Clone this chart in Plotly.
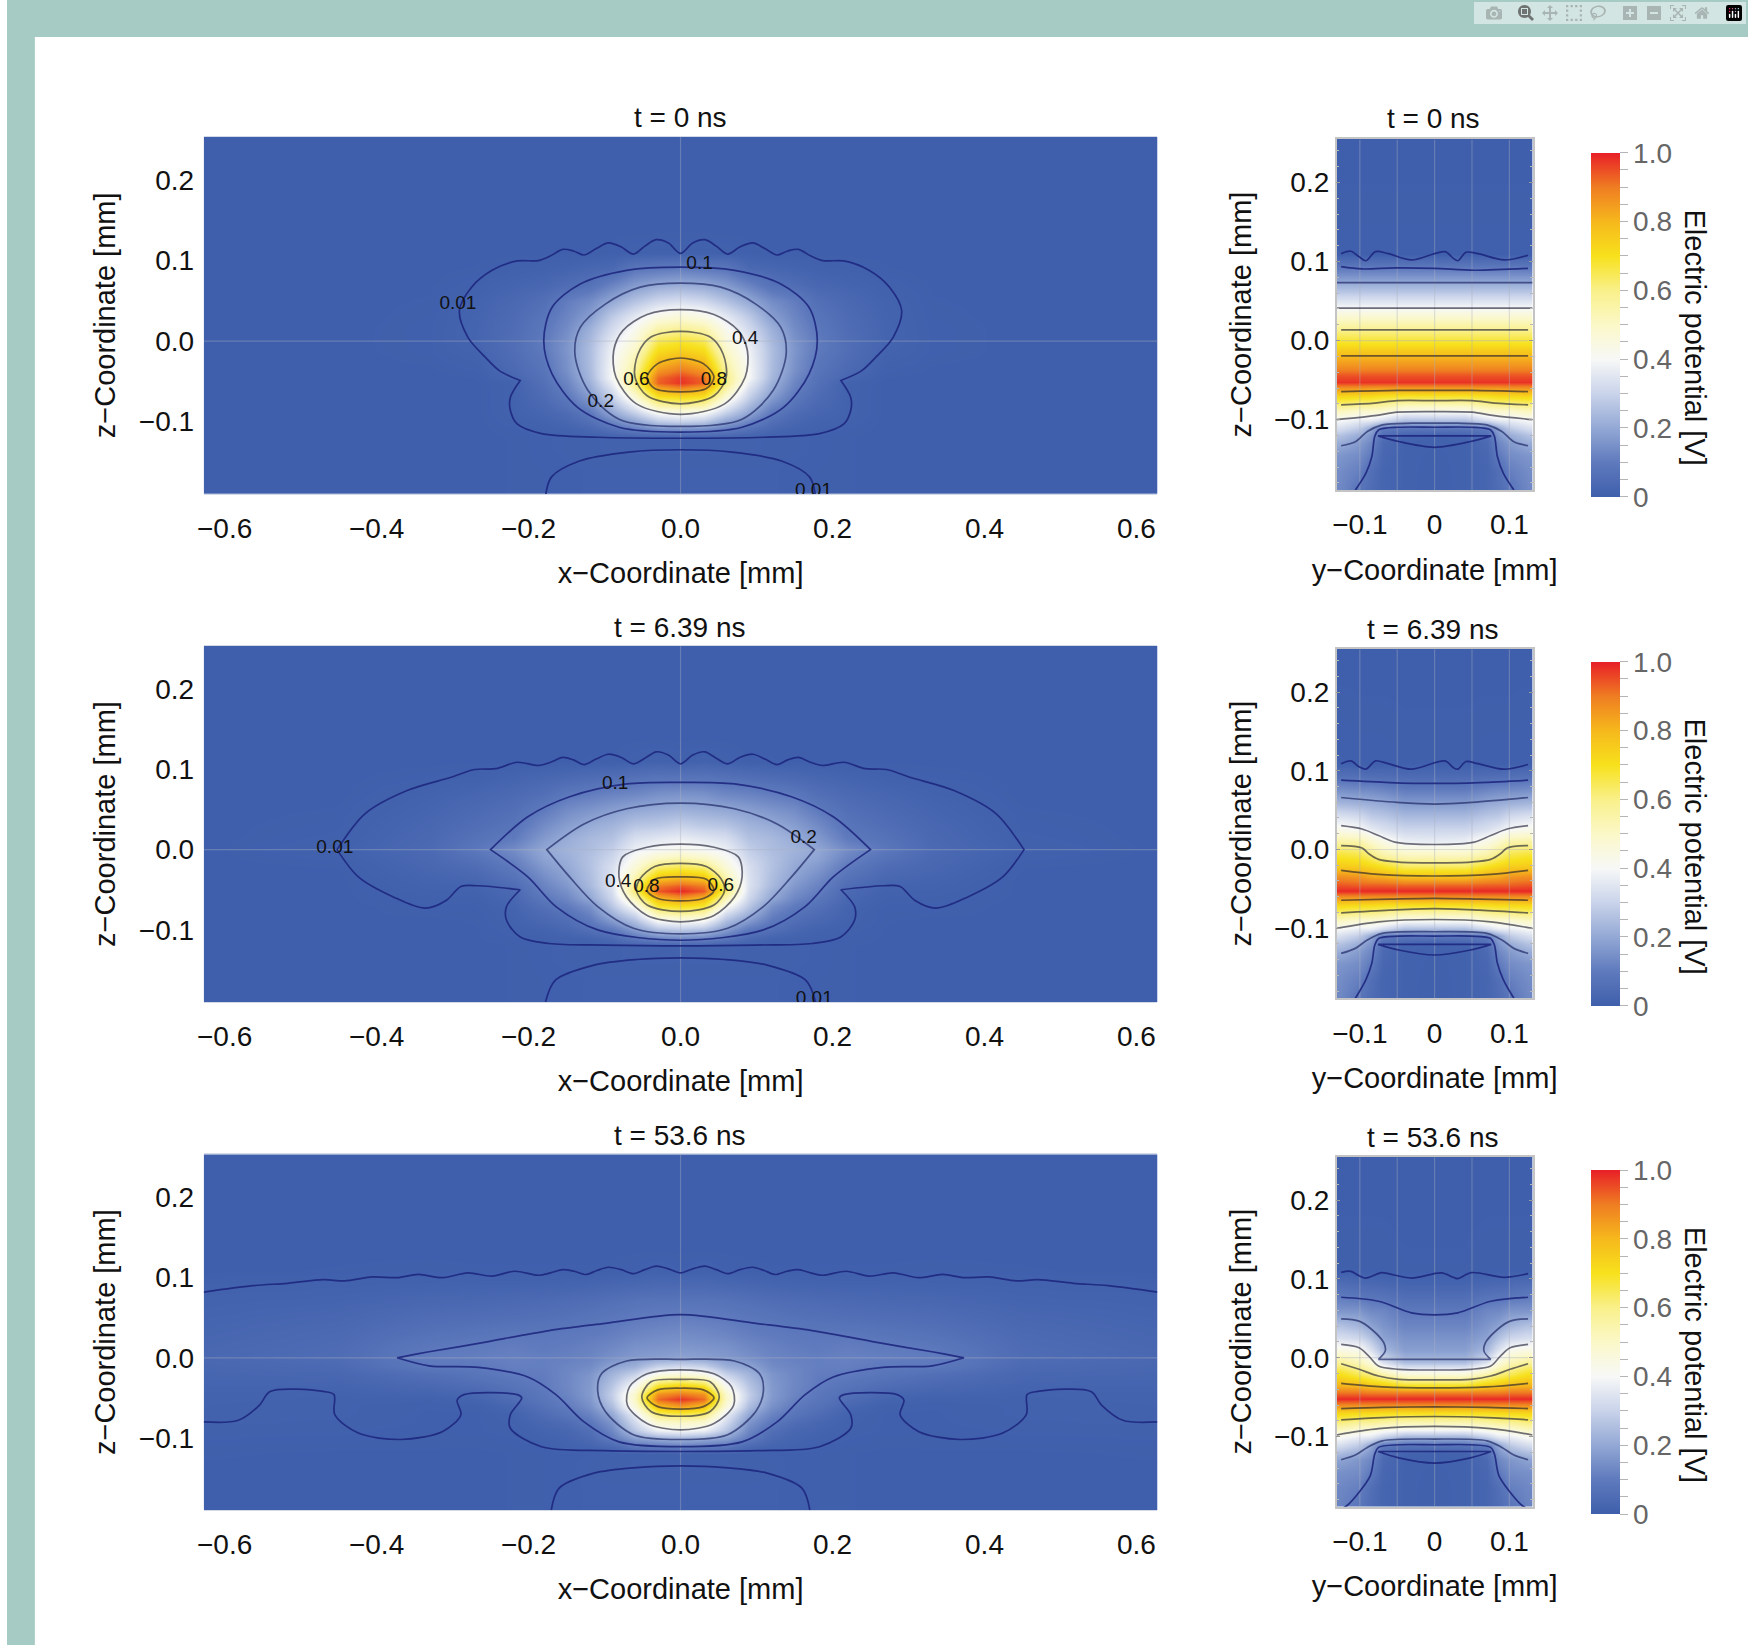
import numpy as np
import plotly.graph_objects as go

W, H = 1748, 1645
FONT = "Liberation Sans"

# ---------- grids (mm) ----------
X_HALF = [0, .03, .06, .09, .12, .15, .18, .22, .27, .33, .45, .6275]
Z_LEFT = [-.19, -.16, -.135, -.12, -.11, -.10, -.09, -.08, -.07, -.06, -.052, -.045,
          -.035, -.02, -.01, 0, .015, .03, .05, .07, .09, .11, .14, .254]
Y_HALF = [0, .04, .07, .085, .10, .125]
Z_RIGHT = [-.19, -.165, -.145, -.13, -.12, -.11, -.10, -.09, -.08, -.07, -.06, -.052, -.045,
           -.035, -.02, -.005, .01, .025, .04, .06, .08, .095, .11, .254]

# ---------- field values: one list per X_HALF / Y_HALF column ----------
L1_COLS = [
 [.005,.005,.01,.012,.14,.29,.42,.57,.70,.85,.98,.97,.90,.80,.73,.68,.58,.47,.33,.21,.11,.01,0,0],
 [.005,.005,.01,.012,.13,.27,.39,.54,.68,.80,.93,.92,.85,.76,.70,.65,.55,.44,.31,.20,.10,.01,0,0],
 [.005,.005,.01,.012,.10,.19,.28,.37,.46,.54,.60,.60,.57,.53,.49,.46,.42,.36,.26,.17,.09,.008,0,0],
 [.005,.005,.01,.01,.06,.12,.19,.24,.29,.33,.37,.40,.40,.39,.38,.36,.32,.28,.20,.12,.04,.003,0,0],
 [.005,.005,.008,.008,.03,.06,.09,.13,.17,.20,.22,.235,.245,.25,.25,.24,.22,.18,.14,.07,.03,.002,0,0],
 [.004,.004,.006,.006,.015,.03,.045,.07,.09,.11,.125,.135,.15,.155,.16,.155,.14,.125,.105,.05,.02,.001,0,0],
 [.003,.003,.004,.004,.009,.015,.025,.035,.045,.055,.065,.07,.08,.09,.10,.10,.09,.08,.06,.03,.012,0,0,0],
 [.002,.002,.002,.002,.004,.008,.012,.012,.012,.012,.015,.03,.04,.05,.055,.055,.05,.045,.035,.02,.008,0,0,0],
 [0,0,0,0,0,0,0,0,0,0,0,.002,.006,.012,.018,.02,.02,.018,.015,.008,.002,0,0,0],
 [0,0,0,0,0,0,0,0,0,0,0,0,.001,.003,.004,.004,.004,.003,.002,.001,0,0,0,0],
 [0]*24,
 [0]*24,
]
L2_COLS = [
 [.005,.005,.01,.01,.14,.27,.40,.56,.71,.86,.99,.94,.80,.64,.53,.43,.37,.30,.22,.155,.08,.008,0,0],
 [.005,.005,.01,.01,.13,.25,.38,.53,.68,.80,.94,.90,.77,.61,.50,.41,.35,.28,.21,.15,.08,.012,0,0],
 [.005,.005,.01,.01,.09,.17,.24,.32,.42,.53,.62,.60,.54,.46,.42,.38,.33,.27,.20,.13,.07,.008,0,0],
 [.005,.005,.008,.008,.04,.09,.16,.22,.27,.31,.33,.34,.34,.33,.31,.29,.26,.23,.18,.12,.06,.002,0,0],
 [.005,.005,.008,.008,.02,.06,.09,.12,.15,.20,.22,.24,.25,.26,.26,.25,.24,.21,.16,.105,.05,.002,0,0],
 [.004,.004,.006,.006,.012,.03,.05,.07,.10,.13,.15,.165,.185,.205,.215,.225,.21,.18,.14,.09,.04,.001,0,0],
 [.003,.003,.004,.004,.008,.015,.03,.045,.065,.09,.11,.12,.14,.17,.19,.20,.17,.14,.10,.06,.03,0,0,0],
 [.002,.002,.002,.002,.004,.008,.012,.015,.02,.03,.04,.05,.07,.10,.12,.14,.10,.08,.06,.04,.02,0,0,0],
 [0,0,0,0,.001,.001,.002,.002,.004,.008,.012,.018,.03,.05,.07,.09,.07,.055,.04,.025,.01,0,0,0],
 [0,0,0,0,0,0,0,.003,.004,.008,.012,.015,.02,.03,.035,.04,.035,.03,.022,.014,.005,0,0,0],
 [0,0,0,0,0,0,0,0,0,0,0,0,0,.002,.006,.01,.006,.004,.002,0,0,0,0,0],
 [0]*24,
]
L3_COLS = [
 [.005,.005,.01,.008,.11,.23,.40,.50,.65,.85,.98,.91,.75,.47,.32,.19,.16,.14,.11,.08,.04,.005,0,0],
 [.005,.005,.01,.008,.10,.21,.38,.48,.62,.78,.92,.87,.70,.44,.30,.18,.155,.135,.105,.08,.04,.008,0,0],
 [.005,.005,.01,.008,.09,.18,.27,.32,.37,.46,.50,.49,.42,.30,.22,.17,.15,.125,.10,.075,.035,.005,0,0],
 [.005,.005,.008,.006,.04,.10,.13,.16,.20,.25,.28,.29,.27,.23,.19,.15,.13,.11,.09,.065,.03,.003,0,0],
 [.005,.005,.006,.005,.02,.04,.06,.09,.12,.15,.165,.17,.17,.16,.14,.125,.115,.10,.08,.055,.025,.002,0,0],
 [.004,.004,.004,.004,.012,.02,.03,.05,.08,.10,.115,.125,.13,.13,.125,.115,.105,.095,.07,.05,.022,.002,0,0],
 [.003,.003,.003,.003,.005,.012,.02,.03,.05,.07,.085,.09,.10,.105,.11,.11,.10,.09,.065,.045,.02,.002,0,0],
 [.002,.002,.002,.002,.003,.005,.008,.011,.015,.03,.05,.06,.075,.10,.11,.115,.105,.09,.06,.04,.018,.002,0,0],
 [0,0,0,0,.002,.002,.004,.004,.004,.008,.02,.03,.05,.08,.095,.11,.10,.08,.055,.035,.018,.002,0,0],
 [0,0,.001,.001,.002,.002,.003,.004,.004,.005,.01,.02,.035,.06,.095,.105,.09,.07,.05,.032,.016,.003,0,0],
 [0,0,.001,.001,.002,.004,.006,.008,.01,.01,.012,.014,.02,.03,.04,.05,.045,.04,.03,.02,.012,.002,0,0],
 [0,0,.001,.002,.003,.005,.007,.01,.012,.013,.014,.016,.02,.025,.03,.035,.03,.025,.02,.015,.01,0,0,0],
]
R1_COLS = [
 [.005,.005,.007,.009,.012,.09,.26,.40,.54,.69,.85,.98,.95,.88,.80,.71,.62,.52,.41,.28,.16,.08,.004,0],
 [.012,.012,.012,.013,.02,.09,.26,.40,.54,.69,.85,.98,.95,.88,.80,.71,.62,.52,.41,.28,.16,.08,.004,0],
 [.025,.025,.03,.04,.06,.10,.33,.46,.58,.70,.85,.98,.95,.88,.80,.71,.62,.52,.41,.28,.16,.08,.004,0],
 [.05,.06,.10,.13,.16,.20,.37,.47,.60,.72,.85,.98,.95,.88,.80,.71,.62,.52,.41,.28,.16,.08,.004,0],
 [.08,.11,.14,.17,.21,.28,.37,.47,.60,.72,.86,.98,.95,.88,.80,.71,.62,.52,.41,.28,.16,.08,.004,0],
 [.13,.14,.16,.21,.26,.33,.40,.50,.62,.73,.86,.98,.95,.88,.80,.71,.62,.52,.41,.28,.16,.08,.004,0],
]
R2_COLS = [
 [.005,.005,.007,.009,.012,.09,.25,.41,.55,.71,.87,.99,.92,.78,.63,.50,.37,.31,.25,.17,.09,.04,.003,0],
 [.012,.012,.012,.013,.02,.09,.25,.41,.55,.71,.87,.99,.92,.78,.63,.50,.38,.31,.25,.17,.09,.04,.003,0],
 [.025,.025,.03,.04,.06,.10,.32,.46,.58,.71,.87,.99,.93,.82,.69,.54,.44,.34,.28,.20,.11,.05,.004,0],
 [.05,.06,.10,.13,.16,.20,.37,.47,.60,.72,.87,.99,.93,.83,.72,.60,.49,.37,.29,.21,.12,.05,.004,0],
 [.08,.11,.14,.17,.21,.28,.37,.47,.60,.72,.87,.99,.93,.86,.74,.65,.55,.41,.33,.22,.12,.055,.004,0],
 [.13,.14,.16,.21,.26,.33,.40,.50,.62,.73,.87,.99,.94,.87,.75,.67,.56,.43,.35,.23,.13,.06,.005,0],
]
R3_COLS = [
 [.005,.005,.007,.009,.012,.08,.23,.42,.56,.71,.88,.99,.90,.70,.46,.24,.18,.155,.125,.095,.05,.02,.002,0],
 [.012,.012,.012,.013,.02,.08,.23,.42,.56,.71,.88,.99,.90,.70,.46,.24,.18,.155,.125,.095,.05,.02,.002,0],
 [.025,.025,.03,.04,.06,.10,.30,.45,.58,.71,.88,.99,.90,.76,.54,.33,.24,.19,.16,.13,.07,.03,.003,0],
 [.05,.06,.10,.13,.16,.20,.36,.47,.60,.72,.88,.99,.90,.77,.60,.45,.34,.26,.19,.135,.075,.035,.003,0],
 [.08,.11,.14,.16,.21,.28,.37,.48,.60,.72,.88,.99,.91,.80,.64,.52,.42,.31,.23,.16,.08,.04,.003,0],
 [.12,.13,.15,.19,.25,.33,.41,.52,.63,.73,.88,.99,.91,.81,.70,.57,.44,.33,.26,.16,.095,.05,.003,0],
]

# ---------- contour lines: (level, mirror?, points (x, z) in mm) ----------
L1_LINES = [
 (.01, True, [(0,.109),(.016,.122),(.032,.126),(.047,.118),(.062,.108),(.078,.117),(.095,.122),(.111,.115),(.127,.107),(.141,.112),(.155,.114),(.171,.106),(.187,.100),(.215,.0996),(.248,.088),(.275,.067),(.291,.038),(.280,.005),(.257,-.020),(.238,-.037),(.211,-.049),(.211,-.049),(.224,-.070),(.224,-.086),(.215,-.103),(.183,-.115),(.109,-.1195),(0,-.1207)]),
 (.01, True, [(0,-.135),(.068,-.138),(.133,-.149),(.170,-.169),(.178,-.195)]),
 (.1, True, [(0,.092),(.071,.088),(.132,.071),(.169,.042),(.18,.001),(.169,-.041),(.136,-.082),(.081,-.107),(0,-.113)]),
 (.2, True, [(0,.072),(.053,.067),(.099,.046),(.132,.017),(.139,-.016),(.122,-.061),(.081,-.097),(0,-.106)]),
 (.4, True, [(0,.039),(.044,.033),(.076,.013),(.088,-.012),(.085,-.045),(.058,-.078),(0,-.091)]),
 (.6, True, [(0,.012),(.039,.005),(.056,-.016),(.060,-.045),(.044,-.068),(0,-.078)]),
 (.8, True, [(0,-.021),(.030,-.028),(.044,-.045),(.034,-.059),(0,-.063)]),
]
L2_LINES = [
 (.01, True, [(0,.107),(.016,.118),(.032,.122),(.047,.114),(.062,.107),(.078,.115),(.095,.119),(.111,.113),(.127,.106),(.141,.112),(.155,.115),(.171,.109),(.187,.105),(.215,.109),(.243,.101),(.271,.100),(.303,.090),(.359,.074),(.415,.045),(.452,0),(.452,0),(.424,-.034),(.378,-.059),(.336,-.073),(.308,-.063),(.289,-.046),(.266,-.045),(.211,-.050),(.211,-.050),(.229,-.071),(.229,-.088),(.211,-.109),(.173,-.117),(.099,-.119),(0,-.120)]),
 (.01, True, [(0,-.135),(.058,-.137),(.114,-.144),(.165,-.163),(.179,-.195)]),
 (.1, True, [(0,.084),(.071,.082),(.146,.066),(.201,.041),(.250,0),(.250,0),(.201,-.034),(.164,-.071),(.109,-.100),(0,-.113)]),
 (.2, True, [(0,.058),(.071,.051),(.127,.032),(.176,0),(.176,0),(.146,-.034),(.109,-.071),(.062,-.098),(0,-.105)]),
 (.4, True, [(0,.007),(.044,.003),(.076,-.009),(.081,-.034),(.071,-.059),(.044,-.082),(0,-.090)]),
 (.6, True, [(0,-.017),(.034,-.021),(.053,-.036),(.058,-.051),(.044,-.069),(0,-.077)]),
 (.8, True, [(0,-.034),(.034,-.037),(.044,-.051),(.030,-.061),(0,-.064)]),
]
L3_LINES = [
 (.01, True, [(0,.106),(.016,.111),(.032,.1145),(.047,.110),(.062,.105),(.078,.110),(.095,.113),(.110,.109),(.124,.104),(.140,.108),(.155,.110),(.171,.106),(.187,.103),(.218,.108),(.248,.102),(.280,.106),(.313,.100),(.345,.104),(.373,.100),(.405,.101),(.442,.096),(.470,.0975),(.517,.093),(.563,.090),(.6275,.082)]),
 (.01, True, [(0,-.117),(.099,-.116),(.183,-.111),(.224,-.088),(.224,-.071),(.209,-.050),(.215,-.046),(.285,-.046),(.294,-.053),(.289,-.071),(.313,-.092),(.368,-.102),(.424,-.094),(.455,-.071),(.456,-.046),(.470,-.042),(.540,-.042),(.554,-.059),(.582,-.078),(.6275,-.080)]),
 (.01, True, [(0,-.135),(.058,-.137),(.114,-.144),(.160,-.163),(.171,-.195)]),
 (.1, True, [(0,.054),(.099,.043),(.173,.034),(.266,.018),(.331,.0075),(.373,0),(.373,0),(.331,-.010),(.266,-.012),(.201,-.024),(.164,-.046),(.127,-.080),(.081,-.105),(0,-.111)]),
 (.2, True, [(0,-.002),(.071,-.004),(.104,-.020),(.109,-.042),(.099,-.067),(.062,-.096),(0,-.102)]),
 (.4, True, [(0,-.015),(.044,-.020),(.067,-.036),(.070,-.059),(.044,-.082),(0,-.090)]),
 (.6, True, [(0,-.027),(.039,-.030),(.051,-.049),(.039,-.067),(0,-.073)]),
 (.8, True, [(0,-.038),(.030,-.040),(.044,-.050),(.030,-.061),(0,-.064)]),
]
R1_LINES = [
 (.01, False, [(-.125,.110),(-.112,.113),(-.101,.106),(-.092,.101),(-.079,.1125),(-.062,.110),(-.031,.102),(.014,.1125),(.025,.104),(.031,.101),(.042,.1117),(.058,.110),(.093,.102),(.125,.108)]),
 (.1, False, [(-.125,.0935),(-.097,.0906),(-.053,.092),(0,.0914),(.053,.089),(.125,.0914)]),
 (.2, False, [(-.131,.0733),(0,.0733),(.131,.0733)]),
 (.4, False, [(-.131,.041),(0,.041),(.131,.041)]),
 (.6, False, [(-.125,.0135),(0,.0135),(.125,.0135)]),
 (.8, False, [(-.125,-.0194),(0,-.0194),(.125,-.0194)]),
 (.8, True, [(0,-.063),(.05,-.063),(.125,-.0645)]),
 (.6, True, [(0,-.076),(.05,-.076),(.08,-.079),(.125,-.0813)]),
 (.4, True, [(0,-.0898),(.05,-.0906),(.08,-.095),(.131,-.100)]),
 (.2, True, [(0,-.1045),(.03,-.1045),(.07,-.1066),(.09,-.115),(.106,-.128),(.125,-.133)]),
 (.1, True, [(0,-.1096),(.048,-.1096),(.075,-.113),(.080,-.121),(.084,-.147),(.092,-.168),(.106,-.189)]),
 (.01, True, [(0,-.135),(.048,-.1277),(.0757,-.1205),(.0757,-.1205),(0,-.1205)]),
]
R2_LINES = [
 (.01, False, [(-.125,.109),(-.112,.1125),(-.101,.105),(-.092,.102),(-.079,.1125),(-.062,.109),(-.031,.102),(.014,.1125),(.025,.104),(.031,.102),(.042,.1117),(.058,.109),(.093,.102),(.125,.108)]),
 (.1, True, [(0,.0839),(.06,.085),(.125,.088)]),
 (.2, True, [(0,.0577),(.05,.0598),(.125,.066)]),
 (.4, True, [(0,.0063),(.053,.0093),(.075,.0177),(.097,.026),(.125,.0303)]),
 (.6, True, [(0,-.0169),(.048,-.016),(.075,-.0126),(.088,-.0055),(.097,.002),(.125,.005)]),
 (.8, True, [(0,-.0337),(.075,-.0316),(.125,-.0265)]),
 (.8, True, [(0,-.062),(.06,-.063),(.125,-.0645)]),
 (.6, True, [(0,-.075),(.06,-.077),(.125,-.0805)]),
 (.4, True, [(0,-.0889),(.075,-.0919),(.131,-.1003)]),
 (.2, True, [(0,-.1045),(.07,-.1066),(.09,-.115),(.106,-.1256),(.125,-.132)]),
 (.1, True, [(0,-.110),(.048,-.110),(.075,-.113),(.080,-.1214),(.084,-.1445),(.092,-.1656),(.106,-.189)]),
 (.01, True, [(0,-.134),(.048,-.1277),(.0757,-.1205),(.0757,-.1205),(0,-.1205)]),
]
R3_LINES = [
 (.01, False, [(-.125,.1083),(-.112,.1096),(-.101,.104),(-.092,.101),(-.071,.108),(-.062,.1066),(-.031,.101),(.009,.1075),(.025,.102),(.031,.1003),(.049,.108),(.093,.102),(.125,.1066)]),
 (.1, True, [(0,.0544),(.031,.0569),(.075,.0716),(.125,.0767)]),
 (.2, True, [(0,-.002),(.075,-.002),(.075,-.002),(.066,.0084),(.068,.019),(.084,.0358),(.101,.0464),(.125,.0493)]),
 (.4, True, [(0,-.0156),(.048,-.0147),(.075,-.0105),(.088,.002),(.101,.0126),(.125,.0169)]),
 (.6, True, [(0,-.0282),(.048,-.0274),(.075,-.0232),(.101,-.0147),(.125,-.0076)]),
 (.8, True, [(0,-.0383),(.07,-.037),(.125,-.0325)]),
 (.8, True, [(0,-.0624),(.07,-.063),(.125,-.0645)]),
 (.6, True, [(0,-.0746),(.07,-.076),(.125,-.0788)]),
 (.4, True, [(0,-.0872),(.075,-.09),(.131,-.098)]),
 (.2, True, [(0,-.1032),(.07,-.1054),(.09,-.1138),(.106,-.1235),(.125,-.1294)]),
 (.1, True, [(0,-.1104),(.048,-.1104),(.075,-.1138),(.080,-.1222),(.086,-.1496),(.101,-.1707),(.117,-.1875),(.125,-.192)]),
 (.01, True, [(0,-.1336),(.048,-.127),(.0757,-.119),(.0757,-.119),(0,-.119)]),
]

# contour labels: text, x, z
L1_LABELS = [("0.01",-.293,.046),("0.1",.025,.095),("0.4",.085,.002),("0.6",-.058,-.049),("0.8",.044,-.049),("0.2",-.105,-.076),("0.01",.175,-.186)]
L2_LABELS = [("0.1",-.086,.082),("0.2",.162,.014),("0.01",-.455,.002),("0.4",-.082,-.041),("0.8",-.045,-.047),("0.6",.053,-.046),("0.01",.176,-.187)]
L3_LABELS = []

TITLES = ["t = 0 ns", "t = 6.39 ns", "t = 53.6 ns"]
X_TICKS = [-.6, -.4, -.2, 0, .2, .4, .6]
Z_TICKS = [-.1, 0, .1, .2]
Y_TICKS = [-.1, 0, .1]
Y_TICK_TEXT = ["−0.1", "0", "0.1"]
CB_TICKS = [0, .05, .1, .15, .2, .25, .3, .35, .4, .45, .5, .55, .6, .65, .7, .75, .8, .85, .9, .95, 1.0]
CB_TEXT = ["0", "", "", "", "0.2", "", "", "", "0.4", "", "", "", "0.6", "", "", "", "0.8", "", "", "", "1.0"]
COLORS = [[0, "#3f5fac"], [.1, "#5f7abd"], [.2, "#93a8d5"], [.3, "#c9d3ea"], [.4, "#f7f8f7"],
          [.5, "#fbf8c8"], [.6, "#f9f08a"], [.7, "#f7e11c"], [.8, "#f6b81c"], [.9, "#ef7d22"], [1, "#e81f27"]]

# ---------- layout boxes (pixels) ----------
LEFT_BOX = [(197.5, 1155, 136.7, 494), (197.5, 1155, 646, 1002), (197.5, 1155, 1154.3, 1510)]
RIGHT_BOX = [(1335, 1531.7, 139, 490), (1335, 1531.7, 648.7, 998.3), (1335, 1531.7, 1156.7, 1506.7)]
CB_BOX = [(142.7, 506.7), (651.7, 1015.7), (1160, 1524.3)]
LEFT_TITLE_Y = [118, 627, 1135]
RIGHT_TITLE_Y = [119, 629, 1137]


def dom_x(a, b):
    return [a / W, b / W]


def dom_y(t, b):
    return [1 - b / H, 1 - t / H]


def mirror_grid(half):
    return [-v for v in half[:0:-1]] + list(half)


def mirror_field(cols):
    arr = np.array(cols, dtype=float)
    return np.hstack([arr[:, ::-1][:, :-1].T if False else arr[:0:-1].T, arr.T])


def line_xy(points, mirrored):
    if not mirrored:
        return [p[0] for p in points], [p[1] for p in points]
    xs = [-p[0] for p in points[::-1]] + [p[0] for p in points[1:]]
    zs = [p[1] for p in points[::-1]] + [p[1] for p in points[1:]]
    return xs, zs


def line_colour(level):
    if level <= .1:
        return "rgba(28,38,125,0.88)"
    if level == .2:
        return "rgba(35,45,105,0.72)"
    return "rgba(25,25,45,0.62)"


fig = go.Figure()


def add_lines(lines, xa, ya):
    for level, mirrored, pts in lines:
        xs, zs = line_xy(pts, mirrored)
        fig.add_trace(go.Scatter(x=xs, y=zs, xaxis=xa, yaxis=ya, mode="lines", hoverinfo="skip",
                                 showlegend=False,
                                 line=dict(color=line_colour(level), width=1.7, shape="spline",
                                           smoothing=.9, simplify=False)))


def add_faint(xs, zs, xa, ya):
    fig.add_trace(go.Scatter(x=xs, y=zs, xaxis=xa, yaxis=ya, mode="lines", hoverinfo="skip",
                             showlegend=False, line=dict(color="rgba(170,175,190,0.38)", width=1.2)))


left_sets = [(L1_COLS, L1_LINES, L1_LABELS), (L2_COLS, L2_LINES, L2_LABELS), (L3_COLS, L3_LINES, L3_LABELS)]
right_sets = [(R1_COLS, R1_LINES), (R2_COLS, R2_LINES), (R3_COLS, R3_LINES)]
annotations = []
layout_axes = {}

for i in range(3):
    n_l, n_r = 2 * i + 1, 2 * i + 2
    xa_l, ya_l = f"x{n_l}", f"y{n_l}"
    xa_r, ya_r = f"x{n_r}", f"y{n_r}"
    cols, lines, labels = left_sets[i]
    fig.add_trace(go.Heatmap(x=mirror_grid(X_HALF), y=Z_LEFT, z=mirror_field(cols), xaxis=xa_l, yaxis=ya_l,
                             zmin=0, zmax=1, colorscale=COLORS, zsmooth="best", showscale=False, hoverinfo="skip"))
    add_faint([-.6275, .6275, None, 0, 0], [0, 0, None, -.19, .254], xa_l, ya_l)
    add_lines(lines, xa_l, ya_l)
    if labels:
        fig.add_trace(go.Scatter(x=[l[1] for l in labels], y=[l[2] for l in labels], text=[l[0] for l in labels],
                                 xaxis=xa_l, yaxis=ya_l, mode="text", hoverinfo="skip", showlegend=False,
                                 textfont=dict(family=FONT, size=19, color="#111111")))
    cols, lines = right_sets[i]
    fig.add_trace(go.Heatmap(x=mirror_grid(Y_HALF), y=Z_RIGHT, z=mirror_field(cols), xaxis=xa_r, yaxis=ya_r,
                             zmin=0, zmax=1, colorscale=COLORS, zsmooth="best", hoverinfo="skip",
                             showscale=True,
                             colorbar=dict(x=1580 / W, xanchor="left", y=1 - CB_BOX[i][0] / H, yanchor="top",
                                           lenmode="pixels", len=CB_BOX[i][1] - CB_BOX[i][0],
                                           thicknessmode="pixels", thickness=29, outlinewidth=0, borderwidth=0,
                                           ticks="outside", ticklen=8, tickwidth=1, tickcolor="#b5b5b5",
                                           tickmode="array", tickvals=CB_TICKS, ticktext=CB_TEXT,
                                           tickfont=dict(family=FONT, size=28, color="#666666"))))
    add_faint([-.1, -.1, None, -.05, -.05, None, 0, 0, None, .05, .05, None, .1, .1, None, -.125, .125],
              [-.19, .254, None, -.19, .254, None, -.19, .254, None, -.19, .254, None, -.19, .254, None, 0, 0],
              xa_r, ya_r)
    add_lines(lines, xa_r, ya_r)

    b = LEFT_BOX[i]
    layout_axes[f"xaxis{n_l}"] = dict(domain=dom_x(b[0], b[1]), anchor=ya_l, range=[-.6275, .6275],
                                      tickmode="array", tickvals=X_TICKS, tickformat=".1f",
                                      ticks="outside", ticklen=9, tickcolor="rgba(0,0,0,0)",
                                      showgrid=False, zeroline=False, showline=True, linecolor="#d4d9e8",
                                      mirror=True, tickfont=dict(family=FONT, size=28, color="#111111"),
                                      title=dict(text="x−Coordinate [mm]", standoff=20,
                                                 font=dict(family=FONT, size=29, color="#111111")))
    layout_axes[f"yaxis{n_l}"] = dict(domain=dom_y(b[2], b[3]), anchor=xa_l, range=[-.19, .254],
                                      tickmode="array", tickvals=Z_TICKS, tickformat=".1f",
                                      ticks="outside", ticklen=3, tickcolor="rgba(0,0,0,0)",
                                      showgrid=False, zeroline=False, showline=False,
                                      tickfont=dict(family=FONT, size=28, color="#111111"),
                                      title=dict(text="z−Coordinate [mm]", standoff=14,
                                                 font=dict(family=FONT, size=29, color="#111111")))
    b = RIGHT_BOX[i]
    layout_axes[f"xaxis{n_r}"] = dict(domain=dom_x(b[0], b[1]), anchor=ya_r, range=[-.131, .131],
                                      tickmode="array", tickvals=Y_TICKS, ticktext=Y_TICK_TEXT,
                                      ticks="outside", ticklen=9, tickcolor="rgba(0,0,0,0)",
                                      showgrid=False, zeroline=False, showline=True, linecolor="#c4c4c4",
                                      linewidth=1.5, mirror=True,
                                      tickfont=dict(family=FONT, size=28, color="#111111"),
                                      title=dict(text="y−Coordinate [mm]", standoff=20,
                                                 font=dict(family=FONT, size=29, color="#111111")))
    layout_axes[f"yaxis{n_r}"] = dict(domain=dom_y(b[2], b[3]), anchor=xa_r, range=[-.189, .255],
                                      tickmode="array", tickvals=Z_TICKS, tickformat=".1f",
                                      ticks="inside", ticklen=4, tickcolor="#9a9a9a",
                                      minor=dict(ticks="inside", ticklen=3, dtick=.02, tickcolor="#b8b8b8"),
                                      showgrid=False, zeroline=False, showline=True, linecolor="#c4c4c4",
                                      linewidth=1.5, mirror="ticks",
                                      tickfont=dict(family=FONT, size=28, color="#111111"),
                                      title=dict(text="z−Coordinate [mm]", standoff=14,
                                                 font=dict(family=FONT, size=29, color="#111111")))
    annotations.append(dict(text=TITLES[i], xref="paper", yref="paper", x=676 / W, y=1 - LEFT_TITLE_Y[i] / H,
                            showarrow=False, xanchor="center", yanchor="middle",
                            font=dict(family=FONT, size=28, color="#111111")))
    annotations.append(dict(text=TITLES[i], xref="paper", yref="paper", x=1432 / W, y=1 - RIGHT_TITLE_Y[i] / H,
                            showarrow=False, xanchor="center", yanchor="middle",
                            font=dict(family=FONT, size=28, color="#111111")))
    annotations.append(dict(text="Electric potential [V]", xref="paper", yref="paper", x=1695 / W,
                            y=1 - (CB_BOX[i][0] + 195) / H, showarrow=False, textangle=90,
                            xanchor="center", yanchor="middle",
                            font=dict(family=FONT, size=29, color="#111111")))

fig.update_layout(
    width=W, height=H, margin=dict(l=0, r=0, t=0, b=0), paper_bgcolor="white", plot_bgcolor="white",
    showlegend=False, annotations=annotations,
    shapes=[
        dict(type="rect", xref="paper", yref="paper", x0=0, x1=1, y0=1 - 37 / H, y1=1, fillcolor="#a6cbc4",
             line_width=0, layer="below"),
        dict(type="rect", xref="paper", yref="paper", x0=0, x1=28 / W, y0=0, y1=1, fillcolor="#a6cbc4",
             line_width=0, layer="below"),
    ],
    **layout_axes,
)
fig.write_html("out.html", post_script="document.body.style.margin='0';")
